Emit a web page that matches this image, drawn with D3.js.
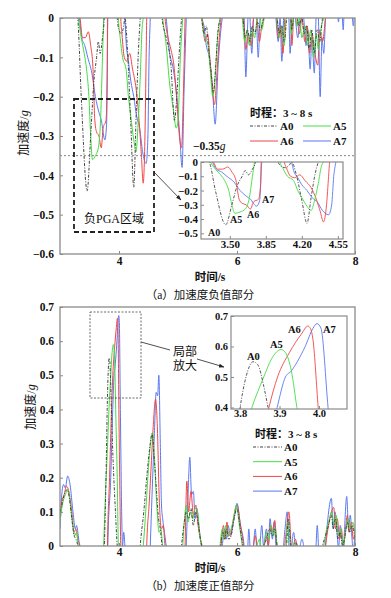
<!DOCTYPE html>
<html>
<head>
<meta charset="utf-8">
<script src="https://cdn.jsdelivr.net/npm/d3@7"></script>
<style>
  body { margin: 0; background: #fff; }
  text { font-family: "Liberation Serif", "Noto Sans CJK SC", serif; fill: #111; }
</style>
</head>
<body>
<div id="graphic"></div>
<script>
// records (time s, acceleration g)
const a0 = [
  [3.00,0.10],[3.03,0.12],[3.08,0.155],[3.12,0.165],[3.16,0.14],[3.20,0.08],[3.24,0.03],[3.27,0.02],[3.30,0],
  [3.36,-0.20],[3.46,-0.44],[3.52,-0.30],[3.57,-0.17],[3.62,-0.10],[3.65,-0.06],[3.68,-0.09],[3.72,-0.05],[3.75,0],
  [3.78,0.20],[3.80,0.40],[3.815,0.50],[3.833,0.55],[3.845,0.54],[3.86,0.47],[3.871,0.40],[3.90,0.25],[3.94,0.10],[3.97,0],
  [4.00,-0.03],[4.04,-0.04],[4.08,-0.02],[4.10,0],[4.15,-0.10],[4.20,-0.27],[4.25,-0.43],[4.29,-0.25],[4.33,-0.08],[4.36,0],
  [4.42,0.10],[4.48,0.22],[4.53,0.30],[4.56,0.33],[4.60,0.25],[4.64,0.15],[4.67,0.08],[4.70,0.05],[4.73,0],
  [4.80,-0.05],[4.88,-0.12],[4.94,-0.26],[4.98,-0.20],[5.02,-0.09],[5.06,0],
  [5.10,0.06],[5.14,0.10],[5.18,0.08],[5.22,0.11],[5.26,0.06],[5.30,0.10],[5.34,0.07],[5.38,0.02],[5.40,0],
  [5.44,-0.04],[5.48,-0.02],[5.52,-0.08],[5.57,-0.15],[5.60,-0.19],[5.64,-0.12],[5.68,-0.03],[5.72,0],
  [5.76,0.04],[5.79,0.02],[5.82,0.05],[5.86,0.02],[5.90,0.03],[5.95,0.08],[6.00,0.11],[6.04,0.07],[6.08,0.02],[6.10,0],
  [6.14,-0.05],[6.18,-0.03],[6.22,-0.06],[6.26,-0.02],[6.30,-0.04],[6.35,-0.01],[6.40,-0.03],[6.45,0],
  [6.50,0.02],[6.55,0.05],[6.60,0.03],[6.64,0.05],[6.68,0],[6.72,-0.04],[6.76,-0.02],[6.80,-0.06],[6.84,0],[6.87,0.08],
  [6.90,0.03],[6.93,-0.03],[6.96,0],[7.00,0.01],[7.05,-0.02],[7.10,0],[7.14,-0.04],[7.18,-0.02],[7.22,-0.08],[7.27,-0.03],
  [7.31,-0.09],[7.36,-0.03],[7.40,-0.06],[7.45,0],[7.50,0.03],[7.55,0.06],[7.60,0.09],[7.63,0.05],[7.67,0.08],[7.71,0.02],
  [7.75,0.04],[7.79,0],[7.83,0.03],[7.87,0.07],[7.91,0.04],[7.95,0.06],[8.00,0.02]
];
const a5 = [
  [3.00,0.07],[3.04,0.12],[3.09,0.15],[3.13,0.165],[3.17,0.13],[3.21,0.07],[3.25,0.03],[3.28,0.04],[3.31,0],
  [3.36,-0.05],[3.41,-0.09],[3.45,-0.13],[3.49,-0.20],[3.52,-0.30],[3.55,-0.36],[3.60,-0.35],[3.65,-0.33],[3.69,-0.25],[3.72,-0.10],[3.74,0],
  [3.77,0.15],[3.80,0.27],[3.83,0.40],[3.86,0.50],[3.88,0.56],[3.904,0.59],[3.915,0.58],[3.93,0.52],[3.944,0.40],[3.97,0.20],[3.99,0],
  [4.02,-0.05],[4.06,-0.10],[4.12,-0.13],[4.16,-0.20],[4.20,-0.25],[4.25,-0.31],[4.29,-0.34],[4.32,-0.28],[4.36,-0.15],[4.39,-0.03],[4.41,0],
  [4.46,0.12],[4.50,0.23],[4.54,0.31],[4.57,0.33],[4.60,0.26],[4.64,0.12],[4.68,0.04],[4.71,0.05],[4.74,0],
  [4.80,-0.07],[4.86,-0.17],[4.92,-0.23],[4.97,-0.28],[5.00,-0.26],[5.04,-0.10],[5.08,0],
  [5.11,0.08],[5.14,0.12],[5.17,0.07],[5.21,0.10],[5.25,0.08],[5.29,0.11],[5.33,0.10],[5.37,0.03],[5.40,0],
  [5.45,-0.05],[5.50,-0.06],[5.54,-0.12],[5.59,-0.20],[5.63,-0.15],[5.67,-0.05],[5.71,0],
  [5.75,0.05],[5.78,0.02],[5.81,0.06],[5.84,0.03],[5.88,0.04],[5.93,0.07],[5.99,0.12],[6.04,0.06],[6.09,0],
  [6.13,-0.06],[6.17,-0.03],[6.21,-0.07],[6.25,-0.03],[6.30,-0.05],[6.34,0],[6.38,0.02],[6.42,-0.03],[6.46,0],
  [6.50,0.04],[6.54,0.02],[6.58,0.06],[6.62,0.03],[6.65,0.05],[6.68,0],[6.72,-0.05],[6.76,-0.02],[6.80,-0.07],[6.83,0],
  [6.86,0.07],[6.89,0.03],[6.92,-0.04],[6.95,0],[6.98,0.01],[7.02,-0.02],[7.06,0],[7.10,-0.05],[7.15,-0.02],[7.20,-0.07],
  [7.25,-0.03],[7.30,-0.10],[7.34,-0.04],[7.38,-0.08],[7.43,-0.02],[7.47,0],[7.52,0.05],[7.57,0.08],[7.60,0.10],[7.64,0.06],
  [7.68,0.09],[7.72,0.03],[7.76,0.05],[7.80,0],[7.84,0.04],[7.88,0.08],[7.92,0.05],[7.96,0.07],[8.00,0.03]
];
const a6 = [
  [3.00,0.08],[3.03,0.13],[3.07,0.15],[3.11,0.175],[3.15,0.16],[3.20,0.10],[3.24,0.04],[3.27,0.05],[3.30,0.02],[3.34,0],
  [3.38,-0.05],[3.43,-0.05],[3.48,-0.035],[3.52,-0.07],[3.56,-0.13],[3.59,-0.26],[3.62,-0.29],[3.66,-0.30],[3.70,-0.33],[3.73,-0.28],[3.78,-0.26],[3.80,-0.15],[3.805,0],
  [3.84,0.20],[3.873,0.40],[3.895,0.50],[3.925,0.58],[3.955,0.64],[3.972,0.667],[3.978,0.66],[3.985,0.62],[3.998,0.40],[4.02,0.10],[4.03,0],
  [4.05,-0.04],[4.09,-0.10],[4.13,-0.11],[4.18,-0.09],[4.23,-0.13],[4.29,-0.18],[4.34,-0.26],[4.38,-0.35],[4.41,-0.42],[4.44,-0.30],[4.46,-0.10],[4.47,0],
  [4.51,0.12],[4.55,0.25],[4.58,0.35],[4.62,0.43],[4.65,0.35],[4.68,0.15],[4.72,0.05],[4.75,0.06],[4.78,0],
  [4.83,-0.05],[4.88,-0.08],[4.93,-0.12],[4.98,-0.21],[5.03,-0.31],[5.06,-0.33],[5.09,-0.20],[5.12,0],
  [5.15,0.19],[5.18,0.10],[5.22,0.16],[5.26,0.09],[5.30,0.12],[5.34,0.06],[5.38,0.02],[5.41,0],
  [5.46,-0.06],[5.50,-0.04],[5.55,-0.12],[5.62,-0.22],[5.66,-0.14],[5.70,-0.05],[5.73,0],
  [5.77,0.06],[5.80,0.02],[5.83,0.07],[5.86,0.03],[5.90,0.04],[5.95,0.09],[6.00,0.12],[6.05,0.07],[6.11,0],
  [6.15,-0.08],[6.19,-0.04],[6.24,-0.07],[6.28,0],[6.31,0.03],[6.34,0],[6.38,-0.06],[6.42,-0.02],[6.46,0],
  [6.50,0.03],[6.53,0],[6.57,0.06],[6.60,0.04],[6.64,0.075],[6.67,0.01],[6.70,-0.05],[6.74,-0.02],[6.78,-0.09],[6.81,0],
  [6.84,0.05],[6.88,0.10],[6.91,0.02],[6.93,-0.07],[6.96,0],[6.99,0.02],[7.02,0],[7.06,-0.04],[7.10,0],[7.15,-0.06],
  [7.19,-0.02],[7.23,-0.09],[7.27,-0.04],[7.31,-0.08],[7.37,-0.12],[7.40,-0.03],[7.45,-0.06],[7.50,0],[7.55,0.06],[7.60,0.10],
  [7.64,0.113],[7.67,0.05],[7.70,0.08],[7.74,0.02],[7.77,0.05],[7.80,0],[7.83,0.03],[7.87,0.09],[7.90,0.04],[7.94,0.07],
  [7.97,0.02],[8.00,0.04]
];
const a7 = [
  [3.00,0.05],[3.03,0.15],[3.06,0.18],[3.09,0.17],[3.13,0.205],[3.17,0.18],[3.22,0.10],[3.26,0.05],[3.28,0.06],[3.31,0.03],[3.33,0],
  [3.37,-0.05],[3.42,-0.07],[3.47,-0.10],[3.54,-0.14],[3.60,-0.20],[3.66,-0.24],[3.70,-0.26],[3.76,-0.31],[3.79,-0.27],[3.81,0],
  [3.86,0.20],[3.894,0.40],[3.915,0.50],[3.93,0.52],[3.945,0.55],[3.965,0.60],[3.985,0.66],[3.995,0.675],[4.005,0.66],[4.023,0.40],[4.045,0.10],[4.06,0],[4.08,0.04],[4.10,0],
  [4.12,-0.06],[4.16,-0.11],[4.20,-0.16],[4.25,-0.20],[4.30,-0.25],[4.35,-0.28],[4.40,-0.34],[4.46,-0.37],[4.49,-0.30],[4.51,-0.10],[4.53,0],
  [4.56,0.15],[4.60,0.33],[4.63,0.45],[4.655,0.44],[4.675,0.50],[4.70,0.30],[4.72,0.12],[4.74,0.08],[4.77,0.04],[4.80,0],
  [4.85,-0.08],[4.92,-0.13],[4.98,-0.20],[5.03,-0.30],[5.07,-0.38],[5.10,-0.20],[5.14,0],
  [5.17,0.15],[5.20,0.26],[5.23,0.15],[5.26,0.16],[5.29,0.08],[5.32,0.11],[5.36,0.05],[5.40,0],
  [5.44,-0.02],[5.48,-0.07],[5.53,-0.10],[5.58,-0.17],[5.63,-0.27],[5.68,-0.12],[5.72,-0.04],[5.75,0],
  [5.79,0.05],[5.82,0.02],[5.85,0.06],[5.89,0.03],[5.93,0.06],[5.97,0.10],[6.00,0.125],[6.06,0.06],[6.12,0],
  [6.15,-0.15],[6.18,-0.02],[6.20,0.05],[6.22,0],[6.25,-0.09],[6.28,0],[6.31,0.05],[6.33,0],[6.36,-0.10],[6.39,0],[6.42,0.06],[6.45,0],
  [6.50,0.05],[6.53,0],[6.56,0.08],[6.60,0.02],[6.63,0.07],[6.66,0],[6.70,-0.06],[6.73,0],[6.76,-0.11],[6.79,0],
  [6.82,0.06],[6.85,0.10],[6.88,0],[6.90,-0.09],[6.93,0],[6.96,0.04],[6.99,0],[7.03,-0.05],[7.07,0],[7.10,0.02],
  [7.13,0],[7.17,-0.07],[7.20,-0.03],[7.24,-0.13],[7.27,-0.05],[7.31,-0.14],[7.34,0],[7.36,0.06],[7.38,0],[7.41,-0.20],
  [7.44,-0.05],[7.47,-0.09],[7.50,0],[7.54,0.08],[7.60,0.14],[7.63,0.05],[7.66,0.10],[7.70,0.03],[7.72,-0.01],[7.75,0.06],
  [7.78,0.02],[7.80,-0.03],[7.82,0.04],[7.86,0.145],[7.89,0.05],[7.92,0.09],[7.95,0.02],[7.97,-0.02],[8.00,0.05]
];

const names = ["A0", "A5", "A6", "A7"];
const series = [a0, a5, a6, a7];
const colors = ["#444", "#45dc45", "#f04646", "#5a78f2"];
const dashes = ["3,1.5,1,1.5", null, null, null];

const xTicks = [4, 6, 8];
const negTicks = [0, -0.1, -0.2, -0.3, -0.4, -0.5, -0.6];
const posTicks = [0, 0.1, 0.2, 0.3, 0.4, 0.5, 0.6, 0.7];
const insetATimeTicks = [3.50, 3.85, 4.20, 4.55];
const insetAValTicks = [0, -0.1, -0.2, -0.3, -0.4, -0.5];
const insetBTimeTicks = [3.8, 3.9, 4.0];
const insetBValTicks = [0.4, 0.5, 0.6, 0.7];
const pgaLine = -0.35;

const svg = d3.select("#graphic")
    .append("svg")
    .attr("width", 391)
    .attr("height", 598);

svg.append("defs").append("marker")
    .attr("id", "arr")
    .attr("viewBox", "0 0 10 10")
    .attr("refX", 9).attr("refY", 5)
    .attr("markerWidth", 7).attr("markerHeight", 7)
    .attr("orient", "auto")
    .append("path")
    .attr("d", "M0,1.5L10,5L0,8.5Z")
    .attr("fill", "#222");

const fmt1 = d => d === 0 ? "0" : d3.format(".1f")(d);

// scales
const x = d3.scaleLinear().domain([3, 8]).range([60, 355]);
const yNeg = d3.scaleLinear().domain([-0.6, 0]).range([254, 18]);
const yPos = d3.scaleLinear().domain([0, 0.7]).range([546, 307]);
const xInA = d3.scaleLinear().domain([3.22, 4.6]).range([201, 343]);
const yInA = d3.scaleLinear().domain([-0.54, 0]).range([239, 162]);
const xInB = d3.scaleLinear().domain([3.777, 4.071]).range([231, 347]);
const yInB = d3.scaleLinear().domain([0.395, 0.7]).range([409, 316]);

function panel(id, xs, ys, lw) {
    const [x0, x1] = xs.range();
    const [yb, yt] = ys.range();
    svg.append("rect")
        .attr("x", x0).attr("y", yt).attr("width", x1 - x0).attr("height", yb - yt)
        .attr("fill", "#fff");
    svg.append("clipPath").attr("id", id)
        .append("rect")
        .attr("x", x0).attr("y", yt).attr("width", x1 - x0).attr("height", yb - yt);
    const g = svg.append("g").attr("clip-path", `url(#${id})`);
    const line = d3.line()
        .x(d => xs(d[0]))
        .y(d => ys(d[1]))
        .curve(d3.curveMonotoneX);
    [3, 2, 1, 0].forEach(i => {
        g.append("path")
            .datum(series[i])
            .attr("d", line)
            .attr("fill", "none")
            .attr("stroke", colors[i])
            .attr("stroke-width", lw)
            .attr("stroke-dasharray", dashes[i]);
    });
    return g;
}

function frame(xs, ys, w) {
    const [x0, x1] = xs.range();
    const [yb, yt] = ys.range();
    svg.append("rect")
        .attr("x", x0).attr("y", yt).attr("width", x1 - x0).attr("height", yb - yt)
        .attr("fill", "none").attr("stroke", "#8a8a8a").attr("stroke-width", w);
}

function axes(xs, ys, xt, yt, xf, yf, size, padX, padY) {
    const gx = svg.append("g")
        .attr("class", "axis")
        .attr("transform", `translate(0,${ys.range()[0]})`)
        .call(d3.axisBottom(xs).tickValues(xt).tickFormat(xf).tickSize(-3).tickPadding(padX));
    const gy = svg.append("g")
        .attr("class", "axis")
        .attr("transform", `translate(${xs.range()[0]},0)`)
        .call(d3.axisLeft(ys).tickValues(yt).tickFormat(yf).tickSize(-3).tickPadding(padY));
    [gx, gy].forEach(g => {
        g.select(".domain").remove();
        g.selectAll("line").attr("stroke", "#8a8a8a");
        g.selectAll("text")
            .style("font-family", "Liberation Serif")
            .style("font-weight", "bold")
            .style("font-size", size + "px")
            .style("fill", "#111");
    });
}

function label(tx, ty, str, size, anchor) {
    return svg.append("text")
        .attr("x", tx).attr("y", ty)
        .attr("text-anchor", anchor || "start")
        .style("font-size", size + "px")
        .text(str);
}

// ---------- (a) negative part ----------
panel("clipA", x, yNeg, 1);
svg.append("line")
    .attr("x1", 60).attr("x2", 355)
    .attr("y1", yNeg(pgaLine)).attr("y2", yNeg(pgaLine))
    .attr("stroke", "#666").attr("stroke-width", 0.8).attr("stroke-dasharray", "2,2");
frame(x, yNeg, 1.3);
axes(x, yNeg, xTicks, negTicks, d3.format("d"), fmt1, 11.5, 3, 6);

svg.append("rect")
    .attr("x", 74).attr("y", 99).attr("width", 80).attr("height", 133)
    .attr("fill", "none").attr("stroke", "#222").attr("stroke-width", 1.8)
    .attr("stroke-dasharray", "5,3");
label(114, 223, "负PGA区域", 12, "middle");
svg.append("line")
    .attr("x1", 154).attr("y1", 172).attr("x2", 181).attr("y2", 200)
    .attr("stroke", "#222").attr("stroke-width", 0.8).attr("marker-end", "url(#arr)");

const t35 = label(193, 150, "−0.35", 11.5).style("font-weight", "bold");
t35.append("tspan").style("font-style", "italic").style("font-weight", "normal").text("g");

// inset (a)
panel("clipInA", xInA, yInA, 0.9);
frame(xInA, yInA, 1.2);
axes(xInA, yInA, insetATimeTicks, insetAValTicks, d3.format(".2f"), fmt1, 11, 1, 3);
label(208, 236, "A0", 10).style("font-weight", "bold");
label(230, 223, "A5", 10).style("font-weight", "bold");
label(247, 218, "A6", 10).style("font-weight", "bold");
label(262, 203, "A7", 10).style("font-weight", "bold");

// legend (a)
label(250, 117, "时程：3 ~ 8 s", 11).style("font-weight", "bold");
const legA = [[250, 126], [303, 126], [250, 141], [303, 141]];
names.forEach((n, i) => {
    const [lx, ly] = legA[i];
    svg.append("line")
        .attr("x1", lx).attr("x2", lx + 28).attr("y1", ly).attr("y2", ly)
        .attr("stroke", colors[i]).attr("stroke-width", 1)
        .attr("stroke-dasharray", dashes[i]);
    label(lx + 30, ly + 4, n, 11).style("font-weight", "bold");
});

// titles (a)
const yta = svg.append("text")
    .attr("transform", "translate(28,133) rotate(-90)")
    .attr("text-anchor", "middle")
    .style("font-size", "12px")
    .text("加速度/");
yta.append("tspan").style("font-style", "italic").text("g");
label(210, 281, "时间/s", 11.5, "middle").style("font-weight", "bold");
label(200, 299, "（a）加速度负值部分", 11.5, "middle");

// ---------- (b) positive part ----------
panel("clipB", x, yPos, 1);
frame(x, yPos, 1.3);
axes(x, yPos, xTicks, posTicks, d3.format("d"), fmt1, 11.5, 2, 6);

svg.append("rect")
    .attr("x", 90).attr("y", 312).attr("width", 51).attr("height", 86)
    .attr("fill", "none").attr("stroke", "#444").attr("stroke-width", 0.8)
    .attr("stroke-dasharray", "2,1.5");
svg.append("line")
    .attr("x1", 141).attr("y1", 342).attr("x2", 170).attr("y2", 350)
    .attr("stroke", "#222").attr("stroke-width", 0.8);
svg.append("line")
    .attr("x1", 197).attr("y1", 359).attr("x2", 224).attr("y2", 367)
    .attr("stroke", "#222").attr("stroke-width", 0.8).attr("marker-end", "url(#arr)");
label(185, 356, "局部", 12, "middle");
label(185, 370, "放大", 12, "middle");

// inset (b)
panel("clipInB", xInB, yInB, 0.9);
frame(xInB, yInB, 1.2);
axes(xInB, yInB, insetBTimeTicks, insetBValTicks, d3.format(".1f"), d3.format(".1f"), 10.5, 1, 3);
label(247, 360, "A0", 10.5).style("font-weight", "bold");
label(270, 348, "A5", 10.5).style("font-weight", "bold");
label(288, 333, "A6", 10.5).style("font-weight", "bold");
label(323, 333, "A7", 10.5).style("font-weight", "bold");

// legend (b)
label(255, 438, "时程：3 ~ 8 s", 11).style("font-weight", "bold");
names.forEach((n, i) => {
    const ly = 447 + i * 14.7;
    svg.append("line")
        .attr("x1", 253).attr("x2", 282).attr("y1", ly).attr("y2", ly)
        .attr("stroke", colors[i]).attr("stroke-width", 1)
        .attr("stroke-dasharray", dashes[i]);
    label(284, ly + 4, n, 11).style("font-weight", "bold");
});

// titles (b)
const ytb = svg.append("text")
    .attr("transform", "translate(35,407) rotate(-90)")
    .attr("text-anchor", "middle")
    .style("font-size", "12px")
    .text("加速度/");
ytb.append("tspan").style("font-style", "italic").text("g");
label(210, 572, "时间/s", 11.5, "middle").style("font-weight", "bold");
label(200, 590, "（b）加速度正值部分", 11.5, "middle");

// keep tick labels above everything else
svg.selectAll("g.axis").raise();
</script>
</body>
</html>
